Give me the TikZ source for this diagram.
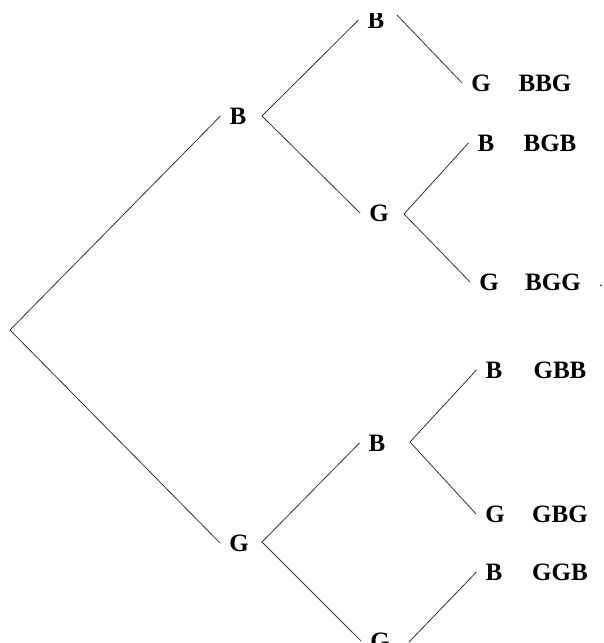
\documentclass[tikz,border=0pt]{standalone}
\usepackage{fontspec}
\setmainfont{Liberation Serif}
\begin{document}
\begin{tikzpicture}[x=1pt,y=-1pt,
  lbl/.style={font=\fontsize{25}{25}\selectfont\bfseries, inner xsep=9pt, inner ysep=0pt},
  res/.style={font=\fontsize{25}{25}\selectfont\bfseries, inner sep=0pt},
  edge/.style={line width=0.8pt, draw=black!80}]
\useasboundingbox (0,0) rectangle (603,643);
\begin{scope}
\clip (0,13) rectangle (603,643);
% branch points
\coordinate (root) at (10,330);
\coordinate (fB1) at (262,116);
\coordinate (fG1) at (262,542);
\coordinate (fBB) at (397,15);
\coordinate (fBG) at (404,214);
\coordinate (fGB) at (410,442);
\coordinate (fGG) at (409,642);
% level 1
\node[lbl] (B1) at (238,116) {B};
\node[lbl] (G1) at (239,543) {G};
% level 2
\node[lbl] (BB) at (376,20) {B};
\node[lbl] (BG) at (379,213) {G};
\node[lbl] (GB) at (377,443) {B};
\node[lbl] (GG) at (380,641) {G};
% level 3
\node[lbl] (BBG) at (481,83) {G};
\node[lbl] (BGB) at (486,143) {B};
\node[lbl] (BGG) at (489,282) {G};
\node[lbl] (GBB) at (494,370) {B};
\node[lbl] (GBG) at (495,514) {G};
\node[lbl] (GGB) at (494,572) {B};
% outcomes
\node[res] (tBBG) at (545,83) {BBG};
\node[res] (tBGB) at (550,143) {BGB};
\node[res] (tBGG) at (553,282) {BGG};
\node[res] (tGBB) at (560,370) {GBB};
\node[res] (tGBG) at (560,514) {GBG};
\node[res] (tGGB) at (560,572) {GGB};
\node[res, font=\fontsize{14}{14}\selectfont] (dot) at (601,286) {.};
% edges
\draw[edge] (B1.west) -- (root) -- (G1.west);
\draw[edge] (BB.west) -- (fB1) -- (BG.west);
\draw[edge] (fBB) -- (BBG.west);
\draw[edge] (BGB.west) -- (fBG) -- (BGG.west);
\draw[edge] (GB.west) -- (fG1) -- (GG.west);
\draw[edge] (GBB.west) -- (fGB) -- (GBG.west);
\draw[edge] (GGB.west) -- (fGG);
\end{scope}
\end{tikzpicture}
\end{document}
